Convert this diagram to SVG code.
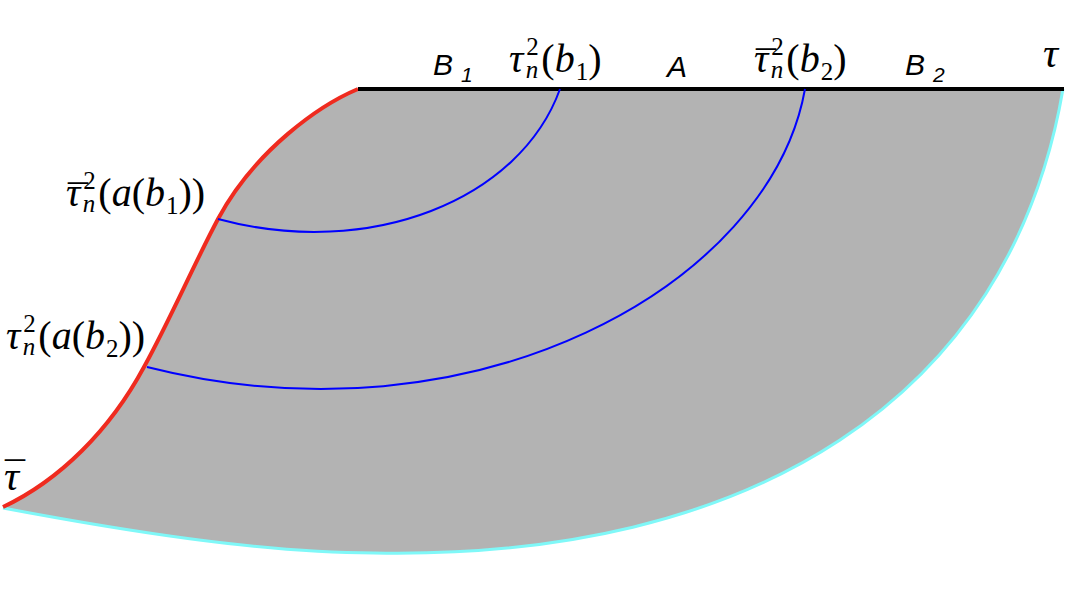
<svg xmlns="http://www.w3.org/2000/svg" width="1067" height="600" viewBox="0 0 1067 600">
<style>
.m{font-family:"Liberation Serif","DejaVu Serif",serif;font-size:40px;fill:#000}
.it{font-style:italic}
.s{font-size:25px}
.lab{font-family:"Liberation Sans","DejaVu Sans",sans-serif;font-style:italic;font-size:30px;fill:#000}
.ls{font-size:21px}
.bar{font-family:"Liberation Serif","DejaVu Serif",serif;font-size:40px;fill:#000}
.blue{fill:none;stroke:#0000ff;stroke-width:2}
</style>
<g id="region">
<path d="M358,89 L1063,89 C1010,400 750,560 374,553 C260,553 120,530 3,507 C60,480 110,430 144,367 C170,320 194,264 218,219 C255,150 320,105 358,89 Z" fill="#b3b3b3"/>
<path d="M3,508 C120,530 260,553 374,553 C750,560 1010,400 1063,89" fill="none" stroke="#7ff8f8" stroke-width="3"/>
<path d="M358,89 C320,105 255,150 218,219 C194,264 170,320 144,367 C110,430 60,480 3,507" fill="none" stroke="#ef2b1f" stroke-width="4"/>
<line x1="358" y1="89" x2="1064" y2="89" stroke="#000" stroke-width="4"/>
</g>
<g id="connectors">
<path class="blue" d="M560,89 C520,200 370,260 218,219"/>
<path class="blue" d="M805,89 C770,285 475,450 147,367"/>
</g>
<g id="label-B1"><text class="lab" x="433" y="75">B<tspan class="ls" dx="8" y="82">1</tspan></text></g>
<g id="label-A"><text class="lab" x="667" y="77">A</text></g>
<g id="label-B2"><text class="lab" x="905" y="75">B<tspan class="ls" dx="8" y="82">2</tspan></text></g>
<g id="label-tau"><text class="m it" x="1043" y="67" style="font-size:42px">τ</text></g>
<g id="label-taubar"><text class="m it" x="4" y="490" style="font-size:42px">τ</text><text class="bar" x="5" y="490">¯</text></g>
<g id="label-tau-b1"><text class="m" x="509" y="72"><tspan class="it">τ</tspan><tspan class="s" dx="3" y="55">2</tspan><tspan class="s it" dx="-13" y="78">n</tspan><tspan dx="3" y="72">(</tspan><tspan class="it">b</tspan><tspan class="s" dx="1" y="80">1</tspan><tspan y="72">)</tspan></text></g>
<g id="label-taubar-b2"><text class="m" x="754" y="72"><tspan class="it">τ</tspan><tspan class="s" dx="3" y="55">2</tspan><tspan class="s it" dx="-13" y="78">n</tspan><tspan dx="3" y="72">(</tspan><tspan class="it">b</tspan><tspan class="s" dx="1" y="80">2</tspan><tspan y="72">)</tspan></text><text class="bar" x="756" y="79">¯</text></g>
<g id="label-taubar-ab1"><text class="m" x="66" y="206"><tspan class="it">τ</tspan><tspan class="s" dx="3" y="189">2</tspan><tspan class="s it" dx="-13" y="212">n</tspan><tspan dx="3" y="206">(</tspan><tspan class="it">a</tspan>(<tspan class="it">b</tspan><tspan class="s" dx="1" y="214">1</tspan><tspan y="206">))</tspan></text><text class="bar" x="68" y="213">¯</text></g>
<g id="label-tau-ab2"><text class="m" x="6" y="349"><tspan class="it">τ</tspan><tspan class="s" dx="3" y="332">2</tspan><tspan class="s it" dx="-13" y="355">n</tspan><tspan dx="3" y="349">(</tspan><tspan class="it">a</tspan>(<tspan class="it">b</tspan><tspan class="s" dx="1" y="357">2</tspan><tspan y="349">))</tspan></text></g>
</svg>
